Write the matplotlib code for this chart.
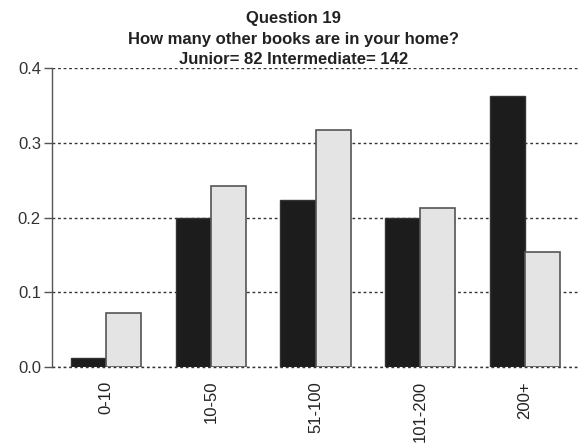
import numpy as np
import matplotlib
matplotlib.use("Agg")
import matplotlib.pyplot as plt

categories = ['0-10', '10-50', '51-100', '101-200', '200+']
junior = [0.012, 0.200, 0.223, 0.200, 0.363]
intermediate = [0.072, 0.242, 0.317, 0.213, 0.154]

plt.rcParams['font.family'] = ['Liberation Sans', 'DejaVu Sans']

fig = plt.figure(figsize=(5.82, 4.47), dpi=100)
ax = fig.add_axes([52 / 582, 80 / 447, 527 / 582, 299 / 447])

x = np.arange(len(categories))
w = 0.335
ax.bar(x - w / 2, junior, w, color='#1c1c1c', edgecolor='#333333', linewidth=1, zorder=3)
ax.bar(x + w / 2, intermediate, w, color='#e4e4e4', edgecolor='#555555', linewidth=1.2, zorder=3)

ax.set_xlim(-0.52, 4.52)
ax.set_ylim(0, 0.4)
ax.set_yticks([0.0, 0.1, 0.2, 0.3, 0.4])
ax.set_yticklabels(['0.0', '0.1', '0.2', '0.3', '0.4'], fontsize=12, color='#333333')
ax.set_xticks(x)
ax.set_xticklabels(categories, rotation=90, fontsize=12, color='#222222')
ax.tick_params(axis='x', length=0, pad=10)
ax.tick_params(axis='y', length=6, width=1, color='#555555', pad=2)

ax.yaxis.grid(True, linestyle=(0, (2, 2)), color='#333333', linewidth=1, zorder=0)
ax.axhline(0, linestyle=(0, (2, 2)), color='#333333', linewidth=1, zorder=0, clip_on=False)
ax.set_axisbelow(True)
for s in ['top', 'right', 'bottom']:
    ax.spines[s].set_visible(False)
ax.spines['left'].set_color('#555555')
ax.spines['left'].set_linewidth(1)
ax.spines['left'].set_zorder(4)

fig.text(0.505, 0.975, 'Question 19\nHow many other books are in your home?\nJunior= 82 Intermediate= 142',
         ha='center', va='top', fontsize=12, fontweight='bold', color='#222222', linespacing=1.45)

fig.savefig('out.png', dpi=100)
